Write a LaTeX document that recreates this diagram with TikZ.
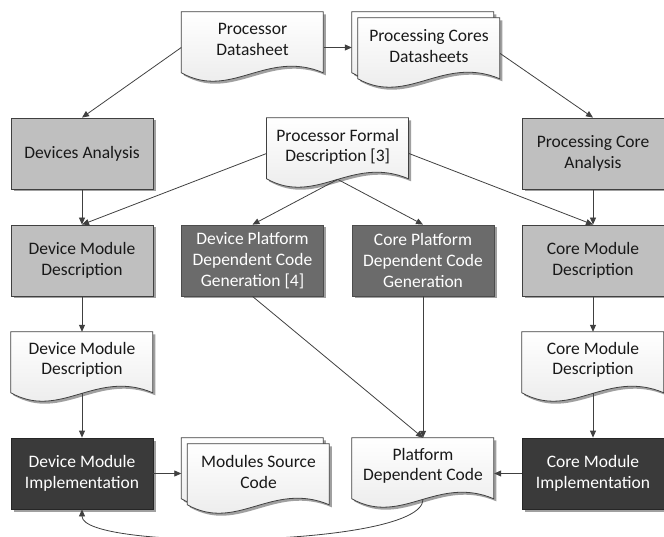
\documentclass[tikz,border=0pt]{standalone}
\usepackage{fontspec}
\setmainfont{Carlito}
\usetikzlibrary{arrows.meta,calc,shadows}
\definecolor{lnc}{HTML}{404040}
\definecolor{lightbox}{HTML}{BFBFBF}
\definecolor{midbox}{HTML}{6B6B6B}
\definecolor{darkbox}{HTML}{3A3A3A}
\definecolor{shd}{HTML}{A0A0A0}
\tikzset{
  txt/.style={font=\fontsize{17.5}{20.7}\selectfont, align=center, inner sep=0pt, text=black!90},
  base/.style={txt, minimum width=142pt, minimum height=71pt, draw=lnc, line width=0.8pt,
    drop shadow={shadow xshift=2.5pt, shadow yshift=-2.5pt, fill=shd, opacity=1}},
  boxL/.style={base, fill=lightbox, text=black!90},
  boxM/.style={base, fill=midbox, draw=black!70, text=white},
  boxD/.style={base, fill=darkbox, draw=black!85, text=white},
  docframe/.style={minimum width=142pt, minimum height=71pt, inner sep=0pt},
  docfill/.style={draw=lnc, line width=0.8pt, top color=white, bottom color=black!9},
  docshadow/.style={fill=shd},
  conn/.style={draw=lnc, line width=0.8pt, -{Triangle[length=7pt,width=6pt]}},
}
\newcommand\docshape[1]{%
  \begin{scope}[shift={(#1.north west)}]
    \path[docshadow] (2.5,-2.5) -- (144.5,-2.5) -- (144.5,-63.5)
      .. controls (87.7,-39.4) and (52.2,-91.25) .. (2.5,-63.5) -- cycle;
    \path[docfill] (0,0) -- (142,0) -- (142,-61)
      .. controls (85.2,-36.9) and (49.7,-88.75) .. (0,-61) -- cycle;
  \end{scope}%
  \coordinate (#1-b) at ($(#1.north)+(0,-61.6)$);%
}
\begin{document}
\begin{tikzpicture}[x=1pt,y=1pt]
\useasboundingbox (0,0) rectangle (664,-537);

% document frames
\node[docframe] (pds)  at (252.5,-47.5) {};
\node[docframe] (pcdb) at (423,-47.5) {};
\node[docframe] (pcd)  at (429,-53.5) {};
\node[docframe] (pfd)  at (337.75,-153.5) {};
\node[docframe] (dmdd) at (82,-367.5) {};
\node[docframe] (cmdd) at (593,-367.5) {};
\node[docframe] (mscb) at (252.5,-473.5) {};
\node[docframe] (msc)  at (258.5,-479.5) {};
\node[docframe] (pdc)  at (423,-473.5) {};

\docshape{pds}
\docshape{pcdb}
\docshape{pcd}
\docshape{pfd}
\docshape{dmdd}
\docshape{cmdd}
\docshape{mscb}
\docshape{msc}
\docshape{pdc}

\node[txt] (pds-t)  at ($(pds.north)+(0,-28)$) {Processor\\Datasheet};
\node[txt] (pcd-t)  at ($(pcd.north)+(0,-28)$) {Processing Cores\\Datasheets};
\node[txt] (pfd-t)  at ($(pfd.north)+(0,-29)$) {Processor Formal\\Description [3]};
\node[txt] (dmdd-t) at ($(dmdd.north)+(0,-28)$) {Device Module\\Description};
\node[txt] (cmdd-t) at ($(cmdd.north)+(0,-28)$) {Core Module\\Description};
\node[txt] (msc-t)  at ($(msc.north)+(0,-28)$) {Modules Source\\Code};
\node[txt] (pdc-t)  at ($(pdc.north)+(0,-28)$) {Platform\\Dependent Code};

% boxes
\node[boxL] (da)  at (82,-153.5)  {Devices Analysis};
\node[boxL] (pca) at (593,-153.5) {Processing Core\\Analysis};
\node[boxL] (dmd) at (82,-260.5)  {Device Module\\Description};
\node[boxM] (dpg) at (252.5,-260.5) {Device Platform\\Dependent Code\\Generation [4]};
\node[boxM] (cpg) at (423,-260.5) {Core Platform\\Dependent Code\\Generation};
\node[boxL] (cmd) at (593,-260.5) {Core Module\\Description};
\node[boxD] (dmi) at (82,-473.5)  {Device Module\\Implementation};
\node[boxD] (cmi) at (593,-473.5) {Core Module\\Implementation};

% connectors
\draw[conn] (pds.west) -- (da.north);
\draw[conn] (pds.east) -- (pcdb.west);
\draw[conn] (pcd.east) -- (pca.north);
\draw[conn] (da.south) -- (dmd.north);
\draw[conn] (pfd.west) -- (dmd.north);
\draw[conn] (pfd-b) -- (dpg.north);
\draw[conn] (pfd-b) -- (cpg.north);
\draw[conn] (pfd.east) -- (cmd.north);
\draw[conn] (pca.south) -- (cmd.north);
\draw[conn] (dmd.south) -- (dmdd.north);
\draw[conn] (cmd.south) -- (cmdd.north);
\draw[conn] (dmdd-b) -- (dmi.north);
\draw[conn] (cmdd-b) -- (cmi.north);
\draw[conn] (dpg.south) -- (pdc.north);
\draw[conn] (cpg.south) -- (pdc.north);
\draw[conn] (dmi.east) -- (mscb.west);
\draw[conn] (cmi.west) -- (pdc.east);
\draw[conn] (pdc-b) .. controls +(0,-48) and +(0,-42) .. (dmi.south);
\end{tikzpicture}
\end{document}
